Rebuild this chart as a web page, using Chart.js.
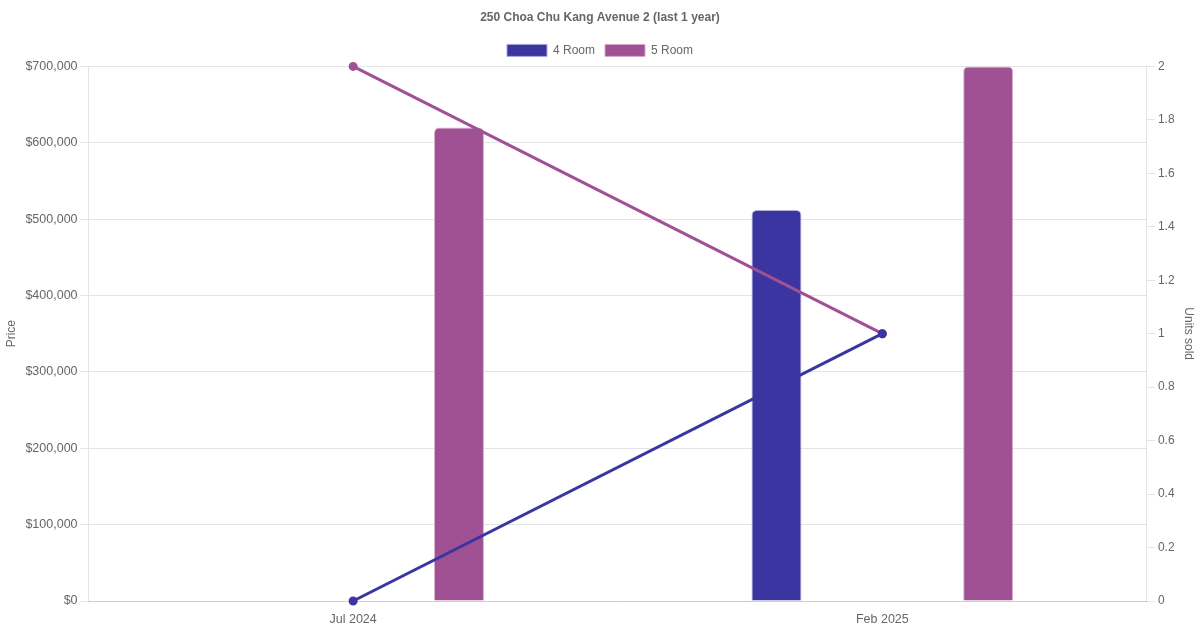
<!DOCTYPE html>
<html>
<head>
<meta charset="utf-8">
<script src="https://cdn.jsdelivr.net/npm/chart.js@4/dist/chart.umd.min.js"></script>
<style>
  html, body { margin: 0; padding: 0; background: #fff; }
  #wrap { width: 1200px; height: 630px; }
</style>
</head>
<body>
<div id="wrap"><canvas id="price-chart"></canvas></div>
<script>
const months = ['Jul 2024', 'Feb 2025'];
const price4Room = [null, 512000];
const price5Room = [620000, 700000];
const sold4Room = [0, 1];
const sold5Room = [2, 1];

const color4 = '#3a35a0';
const color5 = '#a05193';

Chart.defaults.color = '#666';

const priceChart = new Chart(document.getElementById('price-chart'), {
	type: 'bar',
	data: {
		labels: months,
		datasets: [{
			label: '4 Room',
			data: price4Room,
			backgroundColor: color4,
			borderColor: 'rgba(170,168,220,0.9)',
			borderWidth: 1,
			borderRadius: 5,
			maxBarThickness: 50,
			yAxisID: 'y',
			order: 1
		}, {
			label: '5 Room',
			data: price5Room,
			backgroundColor: color5,
			borderColor: 'rgba(215,170,205,0.9)',
			borderWidth: 1,
			borderRadius: 5,
			maxBarThickness: 50,
			yAxisID: 'y',
			order: 1
		}, {
			type: 'line',
			label: '4 Room sold',
			data: sold4Room,
			borderColor: color4,
			backgroundColor: color4,
			borderWidth: 3,
			pointRadius: 3,
			yAxisID: 'y1',
			order: 0
		}, {
			type: 'line',
			label: '5 Room sold',
			data: sold5Room,
			borderColor: color5,
			backgroundColor: color5,
			borderWidth: 3,
			pointRadius: 3,
			yAxisID: 'y1',
			order: 0
		}]
	},
	options: {
		responsive: true,
		maintainAspectRatio: false,
		animation: false,
		plugins: {
			title: {
				display: true,
				text: '250 Choa Chu Kang Avenue 2 (last 1 year)',
				font: { size: 12, weight: 'bold' }
			},
			legend: {
				labels: {
					filter: (item, data) => data.datasets[item.datasetIndex].type !== 'line'
				}
			}
		},
		scales: {
			x: {
				grid: { display: false },
				ticks: { font: { size: 12.5 } }
			},
			y: {
				position: 'left',
				beginAtZero: true,
				title: { display: true, text: 'Price' },
				ticks: {
					font: { size: 12.5 },
					stepSize: 100000,
					callback: v => '$' + v.toLocaleString('en-US')
				}
			},
			y1: {
				position: 'right',
				beginAtZero: true,
				title: { display: true, text: 'Units sold' },
				grid: { drawOnChartArea: false },
				ticks: {
					callback: v => String(Math.round(v * 10) / 10)
				}
			}
		}
	}
});
</script>
</body>
</html>
